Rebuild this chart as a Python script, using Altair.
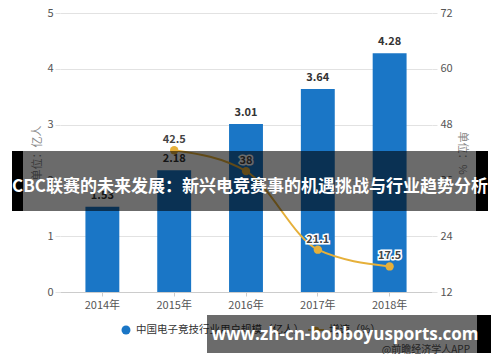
import altair as alt
import pandas as pd

# ---- data ----
years = ["2014年", "2015年", "2016年", "2017年", "2018年"]
users = [1.53, 2.18, 3.01, 3.64, 4.28]
growth_years = ["2015年", "2016年", "2017年", "2018年"]
growth = [42.5, 38.0, 21.1, 17.5]
left_ticks = [0, 1, 2, 3, 4, 5]
right_ticks = [12, 24, 36, 48, 60, 72]

title_text = "CBC联赛的未来发展：新兴电竞赛事的机遇挑战与行业趋势分析"
watermark_text = "www.zh-cn-bobboyusports.com"
legend_bar = "中国电子竞技行业用户规模（亿人）"
legend_line = "增速（%）"
source_text = "@前瞻经济学人APP"
left_title = "单位：亿人"
right_title = "单位：%"

FONT = "Noto Sans CJK SC"
BLUE = "#1a76c6"
GOLD = "#e6b03a"
GRID = "#e2e2e2"

bar_df = pd.DataFrame({"year": years, "users": users})
line_df = pd.DataFrame({"year": growth_years, "growth": growth})
one = pd.DataFrame({"k": [0]})

xscale = alt.Scale(domain=years, paddingInner=0.528, paddingOuter=0.354)
xenc = alt.X("year:N", scale=xscale, sort=years,
             axis=alt.Axis(title=None, labelAngle=0, labelFontSize=11, labelColor="#555",
                           labelPadding=3, domainColor="#cccccc", tickColor="#cccccc",
                           tickSize=4, grid=False, labelFont=FONT))

yleft = alt.Y("users:Q", scale=alt.Scale(domain=[0, 5], nice=False, zero=True),
              axis=alt.Axis(values=left_ticks, title=left_title, titleFontSize=11,
                            titleColor="#888", titleFontWeight="normal", titlePadding=4,
                            labelColor="#555", labelFontSize=11, labelPadding=2,
                            ticks=True, tickSize=5, tickColor=GRID, domain=False,
                            gridColor=GRID, labelFont=FONT, titleFont=FONT))

bars = alt.Chart(bar_df).mark_bar(color=BLUE).encode(x=xenc, y=yleft)
bar_text = alt.Chart(bar_df).mark_text(dy=-11, fontWeight="bold", fontSize=11,
                                       color="#333", font=FONT).encode(
    x=xenc, y=yleft, text=alt.Text("users:Q", format=".2f"))

yright = alt.Y("growth:Q", scale=alt.Scale(domain=[12, 72], nice=False, zero=False),
               axis=alt.Axis(orient="right", values=right_ticks, title=right_title,
                             titleFontSize=11, titleColor="#888", titleFontWeight="normal",
                             titlePadding=4, labelColor="#555", labelFontSize=11,
                             labelPadding=3, ticks=True, tickSize=5, tickColor=GRID,
                             domain=False, grid=False, labelFont=FONT, titleFont=FONT))

line = alt.Chart(line_df).mark_line(interpolate="monotone", color=GOLD, strokeWidth=2).encode(
    x=xenc, y=yright)
points = alt.Chart(line_df).mark_circle(size=70, color=GOLD, opacity=1).encode(x=xenc, y=yright)
lab_halo = alt.Chart(line_df).mark_text(dy=-10, fontWeight="bold", fontSize=11, color="white",
                                        stroke="white", strokeWidth=3, font=FONT).encode(
    x=xenc, y=yright, text=alt.Text("growth:Q"))
lab = alt.Chart(line_df).mark_text(dy=-10, fontWeight="bold", fontSize=11, color="#444",
                                   font=FONT).encode(
    x=xenc, y=yright, text=alt.Text("growth:Q"))


def rect(x1, x2, y1, y2, color, opacity=1.0):
    return alt.Chart(one).mark_rect(color=color, opacity=opacity).encode(
        x=alt.value(x1), x2=alt.value(x2), y=alt.value(y1), y2=alt.value(y2))


def text(x, y, t, size, color, weight="normal", align="center", font=FONT):
    return alt.Chart(one).mark_text(text=t, fontSize=size, color=color, fontWeight=weight,
                                    align=align, baseline="middle", font=font).encode(
        x=alt.value(x), y=alt.value(y))


# legend
leg_circle = alt.Chart(one).mark_circle(size=80, color=BLUE, opacity=1).encode(
    x=alt.value(66), y=alt.value(317))
leg_text1 = text(76, 317, legend_bar, 10.5, "#333", align="left")
leg_line = alt.Chart(one).mark_rule(color=GOLD, strokeWidth=2).encode(
    x=alt.value(248), x2=alt.value(264), y=alt.value(317))
leg_pt = alt.Chart(one).mark_circle(size=45, color=GOLD, opacity=1).encode(
    x=alt.value(256), y=alt.value(317))
leg_text2 = text(269, 317, legend_line, 10.5, "#333", align="left")
source = text(410, 337, source_text, 10, "#555", align="right")

# banner overlay
ban_l = rect(-48, -37, 138, 198, "#000000")
ban_m = rect(-37, 416, 138, 198, "#000000", 0.58)
ban_r = rect(416, 428, 138, 198, "#000000")
ban_t = text(190, 174, title_text, 17, "white", weight="bold")

# watermark overlay
wm_m = rect(147, 417, 302, 340, "#000000", 0.58)
wm_r = rect(417, 431, 302, 340, "#000000")
wm_t = text(285, 322, watermark_text, 17, "white", weight="bold", font="Open Sans")

bar_group = alt.layer(bars, bar_text)
line_group = alt.layer(line, points, lab_halo, lab,
                       leg_circle, leg_text1, leg_line, leg_pt, leg_text2, source,
                       ban_l, ban_m, ban_r, ban_t, wm_m, wm_r, wm_t)

chart = alt.layer(bar_group, line_group).resolve_scale(y="independent").properties(
    width=372, height=279,
    autosize=alt.AutoSizeParams(type="none"),
    padding={"left": 52, "top": 5, "right": 60, "bottom": 62},
).configure(font=FONT, background="white").configure_view(stroke=None)

chart.save("out.html", embed_options={"renderer": "svg", "actions": False})
